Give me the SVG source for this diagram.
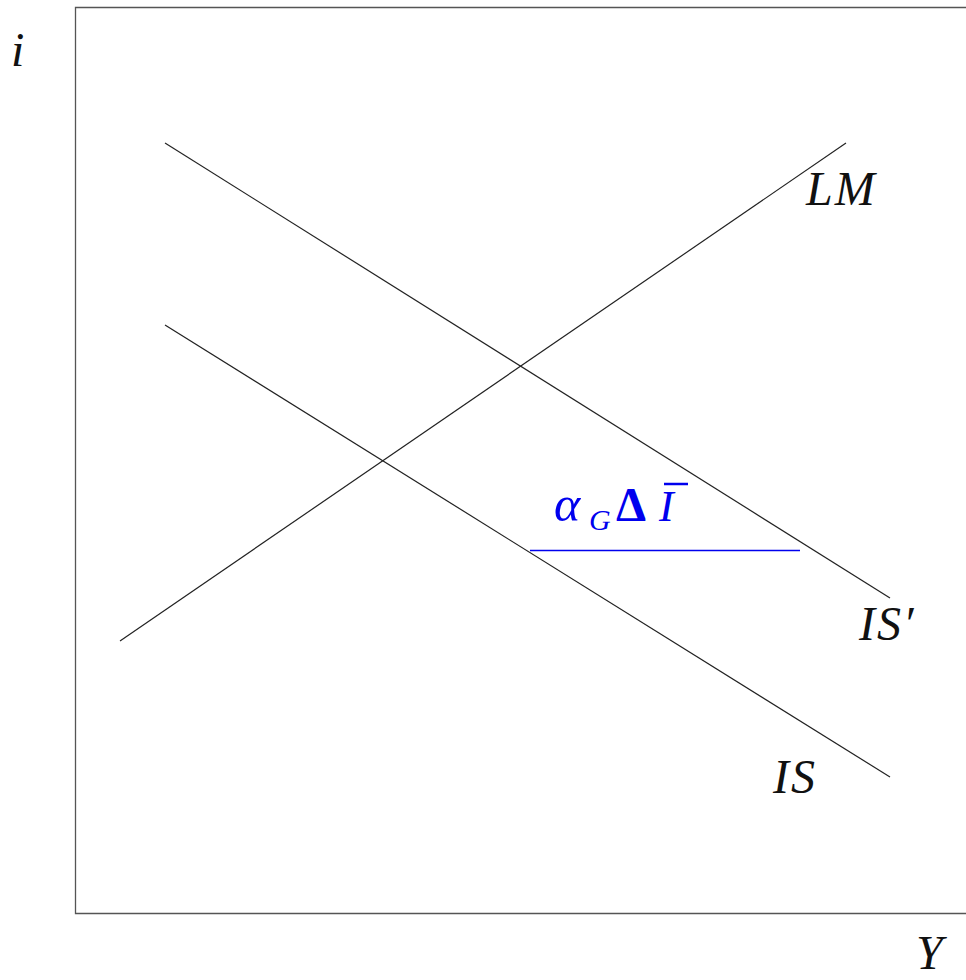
<svg xmlns="http://www.w3.org/2000/svg" width="966" height="980" viewBox="0 0 966 980">
<style>
.frame{fill:none;stroke:#555;stroke-width:1.3}
.curve{stroke:#222;stroke-width:1.2;fill:none}
.lbl{font-family:'Liberation Serif','DejaVu Serif',serif;font-style:italic;font-size:48px;fill:#111}
.blue{fill:#0000ee;font-family:'Liberation Serif','DejaVu Serif',serif}
</style>
<rect width="966" height="980" fill="#fff"/>
<g id="axes">
<path class="frame" d="M966 7.5H75.5V913.5H966"/>
<text class="lbl" x="11" y="66">i</text>
<text class="lbl" x="916" y="969" font-size="46">Y</text>
</g>
<g id="connectors">
<line id="is-prime" class="curve" x1="165" y1="143" x2="890" y2="598"/>
<line id="is" class="curve" x1="165" y1="325" x2="890" y2="777"/>
<line id="lm" class="curve" x1="120" y1="641" x2="846" y2="143"/>
<line id="shift" x1="530" y1="550.5" x2="800" y2="550.5" stroke="#0000ee" stroke-width="1.3"/>
</g>
<g id="label-lm"><text class="lbl" x="806" y="205" letter-spacing="2">LM</text></g>
<g id="label-isprime"><text class="lbl" x="859" y="640" letter-spacing="2">IS′</text></g>
<g id="label-is"><text class="lbl" x="773" y="793" letter-spacing="2">IS</text></g>
<g id="label-shift">
<text class="blue" x="554" y="521" font-size="50" font-style="italic">α</text>
<text class="blue" x="589" y="530" font-size="30" font-style="italic">G</text>
<text class="blue" x="616" y="521" font-size="48" font-family="DejaVu Sans" font-weight="bold">Δ</text>
<text class="blue" x="659" y="521" font-size="44" font-style="italic">I</text>
<line x1="664" y1="484" x2="688" y2="484" stroke="#0000ee" stroke-width="2.5"/>
</g>
</svg>
